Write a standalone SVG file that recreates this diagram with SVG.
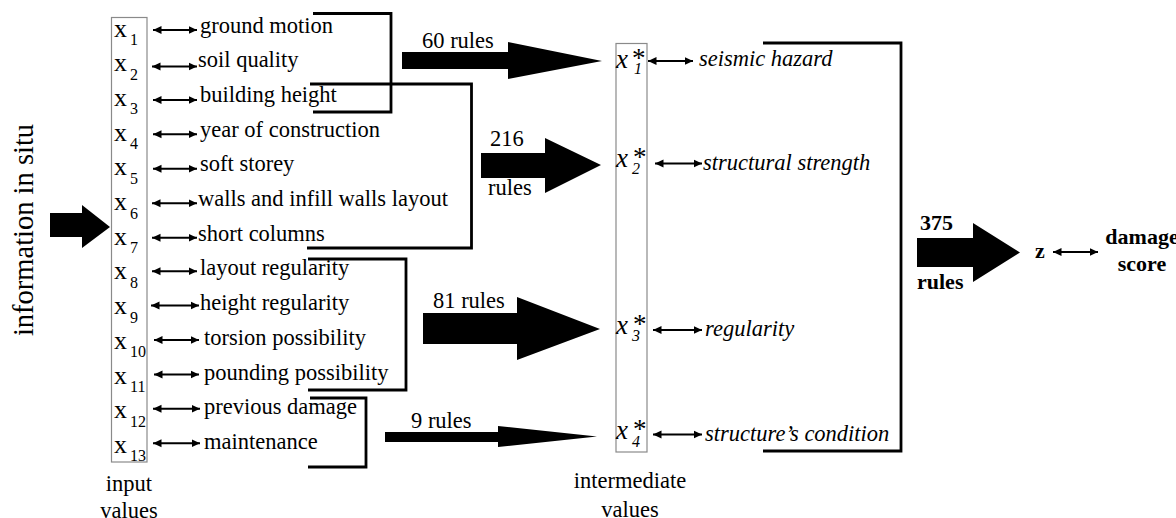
<svg xmlns="http://www.w3.org/2000/svg" width="1176" height="518" viewBox="0 0 1176 518" font-family="'Liberation Serif', 'Times New Roman', serif">
  <style>
    text { font-family: 'Liberation Serif', 'Times New Roman', serif; fill: #000; }
    .lbl { font-size: 22.5px; }
    .it { font-size: 22.5px; font-style: italic; }
    .var { font-size: 26px; }
    .sub { font-size: 16px; }
    .ivar { font-size: 27px; font-style: italic; }
    .isub { font-size: 16px; font-style: italic; }
    .ast { font-size: 27px; font-style: normal; }
    .bold { font-size: 22px; font-weight: bold; }
    .box { fill: none; stroke: #8a8a8a; stroke-width: 1.2; }
    .bracket { fill: none; stroke: #000; stroke-width: 2.8; }
    .link { stroke: #000; stroke-width: 2; marker-start: url(#head); marker-end: url(#head); }
    .big { fill: #000; }
  </style>
  <defs>
    <marker id="head" markerUnits="userSpaceOnUse" markerWidth="10" markerHeight="9" refX="8.5" refY="4.5" orient="auto-start-reverse">
      <path d="M0,0.5 L8.5,4.5 L0,8.5 z" fill="#000"/>
    </marker>
  </defs>

  <!-- input source -->
  <g id="information-in-situ">
    <text class="lbl" style="font-size:28.5px" text-anchor="middle" transform="translate(33,230) rotate(-90)">information in situ</text>
    <polygon class="big" points="50,213 82,213 82,205 110,227 82,248 82,237 50,237"/>
  </g>

  <!-- input values column -->
  <g id="input-values">
    <rect class="box" x="111.5" y="17.5" width="35.5" height="444.5"/>
    <text class="var" x="114" y="36.5">x<tspan class="sub" x="130" y="45">1</tspan></text>
    <text class="var" x="114" y="71.2">x<tspan class="sub" x="130" y="79.7">2</tspan></text>
    <text class="var" x="114" y="105.9">x<tspan class="sub" x="130" y="114.4">3</tspan></text>
    <text class="var" x="114" y="140.6">x<tspan class="sub" x="130" y="149.1">4</tspan></text>
    <text class="var" x="114" y="175.3">x<tspan class="sub" x="130" y="183.8">5</tspan></text>
    <text class="var" x="114" y="210">x<tspan class="sub" x="130" y="218.5">6</tspan></text>
    <text class="var" x="114" y="244.7">x<tspan class="sub" x="130" y="253.2">7</tspan></text>
    <text class="var" x="114" y="279.4">x<tspan class="sub" x="130" y="287.9">8</tspan></text>
    <text class="var" x="114" y="314.1">x<tspan class="sub" x="130" y="322.6">9</tspan></text>
    <text class="var" x="114" y="348.8">x<tspan class="sub" x="130" y="357.3">10</tspan></text>
    <text class="var" x="114" y="383.5">x<tspan class="sub" x="130" y="392">11</tspan></text>
    <text class="var" x="114" y="418.2">x<tspan class="sub" x="130" y="426.7">12</tspan></text>
    <text class="var" x="114" y="452.9">x<tspan class="sub" x="130" y="461.4">13</tspan></text>
    <text class="lbl" x="129" y="491" text-anchor="middle">input</text>
    <text class="lbl" x="129" y="518" text-anchor="middle">values</text>
  </g>

  <!-- input descriptions -->
  <g id="input-labels">
    <text class="lbl" x="200" y="32.5">ground motion</text>
    <text class="lbl" x="198" y="67.2">soil quality</text>
    <text class="lbl" x="200" y="101.9">building height</text>
    <text class="lbl" x="200" y="136.6">year of construction</text>
    <text class="lbl" x="200" y="171.3">soft storey</text>
    <text class="lbl" x="198" y="206">walls and infill walls layout</text>
    <text class="lbl" x="198" y="240.7">short columns</text>
    <text class="lbl" x="200" y="275.4">layout regularity</text>
    <text class="lbl" x="200" y="310.1">height regularity</text>
    <text class="lbl" x="204" y="344.8">torsion possibility</text>
    <text class="lbl" x="204" y="379.5">pounding possibility</text>
    <text class="lbl" x="204" y="414.2">previous damage</text>
    <text class="lbl" x="204" y="448.9">maintenance</text>
  </g>

  <!-- intermediate values column -->
  <g id="intermediate-values">
    <rect class="box" x="616" y="43.5" width="31" height="408.5"/>
    <text class="ivar" x="616" y="68">x<tspan class="ast" x="632" y="67">*</tspan><tspan class="isub" x="634" y="74">1</tspan></text>
    <text class="ivar" x="616" y="167">x<tspan class="ast" x="633" y="166">*</tspan><tspan class="isub" x="632" y="174">2</tspan></text>
    <text class="ivar" x="616" y="334">x<tspan class="ast" x="633" y="333">*</tspan><tspan class="isub" x="632" y="341">3</tspan></text>
    <text class="ivar" x="616" y="439">x<tspan class="ast" x="633" y="438">*</tspan><tspan class="isub" x="632" y="447">4</tspan></text>
    <text class="lbl" x="630" y="488" text-anchor="middle">intermediate</text>
    <text class="lbl" x="630" y="517" text-anchor="middle">values</text>
  </g>

  <!-- intermediate descriptions -->
  <g id="intermediate-labels">
    <text class="it" x="699" y="66">seismic hazard</text>
    <text class="it" x="703" y="170">structural strength</text>
    <text class="it" x="705" y="336">regularity</text>
    <text class="it" x="705" y="441">structure’s condition</text>
  </g>

  <!-- output -->
  <g id="output">
    <text class="bold" x="1040" y="258" text-anchor="middle">z</text>
    <text class="bold" x="1142" y="244" text-anchor="middle">damage</text>
    <text class="bold" x="1142" y="271" text-anchor="middle">score</text>
  </g>

  <!-- connectors: correspondences, groupings and rule-base arrows -->
  <g id="connectors">
    <line class="link" x1="153" y1="30" x2="197" y2="30"/>
    <line class="link" x1="152" y1="66.5" x2="197" y2="66.5"/>
    <line class="link" x1="153" y1="99.9" x2="197" y2="99.9"/>
    <line class="link" x1="153" y1="134.3" x2="197" y2="134.3"/>
    <line class="link" x1="153" y1="168.8" x2="197" y2="168.8"/>
    <line class="link" x1="152" y1="203.2" x2="197" y2="203.2"/>
    <line class="link" x1="152" y1="237.7" x2="197" y2="237.7"/>
    <line class="link" x1="152" y1="271.2" x2="197" y2="271.2"/>
    <line class="link" x1="151" y1="305.6" x2="199" y2="305.6"/>
    <line class="link" x1="154" y1="340" x2="199" y2="340"/>
    <line class="link" x1="154" y1="374.4" x2="199" y2="374.4"/>
    <line class="link" x1="153" y1="408.8" x2="200" y2="408.8"/>
    <line class="link" x1="153" y1="443.2" x2="200" y2="443.2"/>

    <line class="link" x1="648" y1="61" x2="693" y2="61"/>
    <line class="link" x1="655" y1="163.5" x2="702" y2="163.5"/>
    <line class="link" x1="653" y1="330" x2="702" y2="330"/>
    <line class="link" x1="653" y1="434.5" x2="702" y2="434.5"/>
    <line class="link" x1="1053" y1="252" x2="1098" y2="252"/>

    <polyline class="bracket" points="313,13.5 391,13.5 391,112 313,112"/>
    <polyline class="bracket" points="310,84 471.5,84 471.5,248 307,248"/>
    <polyline class="bracket" points="308,259 406,259 406,390 308,390"/>
    <polyline class="bracket" points="310,398 366,398 366,467 308,467"/>
    <polyline class="bracket" points="763,43 901,43 901,451 763,451"/>

    <polygon class="big" points="402,52 508,52 508,42 602,61 508,79 508,69 402,69"/>
    <text class="lbl" x="422" y="47.5">60 rules</text>

    <polygon class="big" points="481,153 545,153 545,138 601,165 545,193 545,178 481,178"/>
    <text class="lbl" x="490" y="145.5">216</text>
    <text class="lbl" x="488" y="195">rules</text>

    <polygon class="big" points="423,313 517,313 517,297 600,329 517,360 517,344 423,344"/>
    <text class="lbl" x="433" y="307.5">81 rules</text>

    <polygon class="big" points="385,432 498,432 498,426 597,436.5 498,447 498,442 385,442"/>
    <text class="lbl" x="411" y="427.5">9 rules</text>

    <polygon class="big" points="917,238 973,238 973,223 1020,252.5 973,282 973,267 917,267"/>
    <text class="bold" x="920" y="230">375</text>
    <text class="bold" x="917" y="289">rules</text>
  </g>
</svg>
